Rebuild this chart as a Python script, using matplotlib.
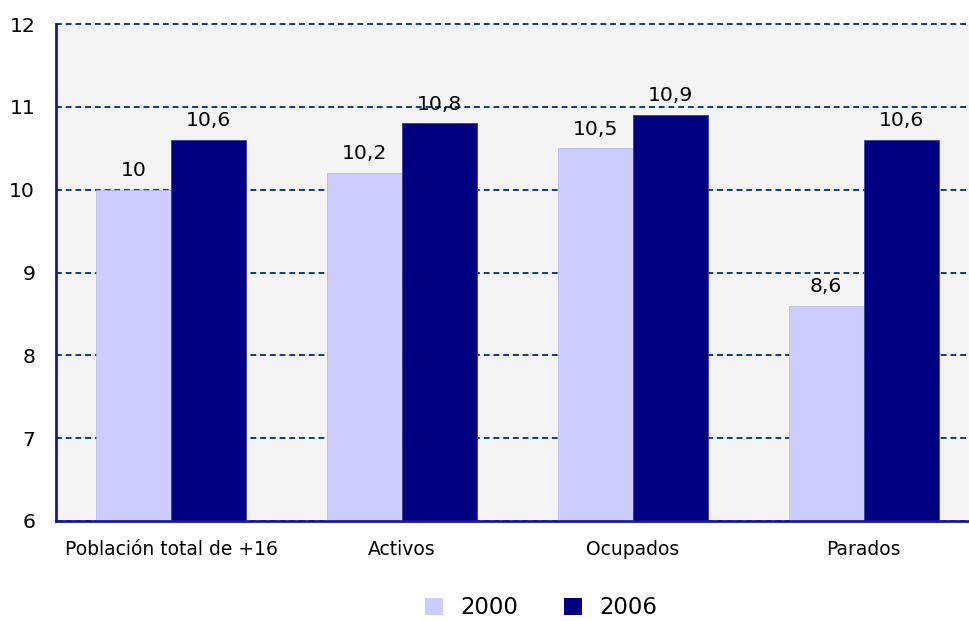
import numpy as np
import matplotlib
matplotlib.use("Agg")
import matplotlib.pyplot as plt
from matplotlib.patches import Patch

categorias = ["Población total de +16", "Activos", "Ocupados", "Parados"]
anios = ["2000", "2006"]
valores_2000 = [10, 10.2, 10.5, 8.6]
valores_2006 = [10.6, 10.8, 10.9, 10.6]
colores = ["#CCCCFF", "#000080"]

plt.rcParams['font.family'] = ['DejaVu Sans']

fig = plt.figure(figsize=(9.69, 6.21), dpi=100)
ax = fig.add_axes([56/969, 100/621, 913/969, 497/621])
ax.set_facecolor("#F4F4F4")

x = np.arange(len(categorias))
w = 0.325

b1 = ax.bar(x - w/2, valores_2000, w, color=colores[0],
            edgecolor="#B4B4E6", linewidth=0.5, zorder=3)
b2 = ax.bar(x + w/2, valores_2006, w, color=colores[1],
            edgecolor="#3A3AA0", linewidth=0.6, zorder=3)

ax.set_ylim(6, 12)
ax.set_xlim(-0.5, 3.457)
ax.set_yticks(range(6, 13))
ax.set_xticks(x)
ax.set_xticklabels(categorias, fontsize=13.5)
ax.tick_params(axis="y", length=0, pad=15, labelsize=14.7)
ax.tick_params(axis="x", length=0, pad=14)

ax.yaxis.grid(True, color="#0B3F80", linestyle=(0, (3, 2)), linewidth=1.4, zorder=1)
ax.xaxis.grid(False)
for gl in ax.get_ygridlines():
    gl.set_clip_on(False)

for s in ["top", "right"]:
    ax.spines[s].set_visible(False)
ax.spines["left"].set_color("#1A1A99")
ax.spines["left"].set_linewidth(2)
ax.spines["bottom"].set_color("#1A1A99")
ax.spines["bottom"].set_linewidth(2)
ax.spines["left"].set_zorder(4)
ax.spines["bottom"].set_zorder(4)

# etiquetas de valores
for barras, vals in [(b1, valores_2000), (b2, valores_2006)]:
    for r, v in zip(barras, vals):
        txt = f"{v:g}".replace(".", ",")
        ax.annotate(txt, (r.get_x() + r.get_width()/2, v),
                    xytext=(0, 7), textcoords="offset points",
                    ha="center", va="bottom", fontsize=14.7, zorder=5)

handles = [Patch(facecolor=c, edgecolor="none") for c in colores]
fig.legend(handles, anios, loc="center", bbox_to_anchor=(541/969, 1 - 608/621),
           ncol=2, frameon=False, fontsize=16.4, handlelength=0.8,
           handleheight=0.8, handletextpad=0.75, columnspacing=2.0)

fig.savefig("out.png", dpi=100)
